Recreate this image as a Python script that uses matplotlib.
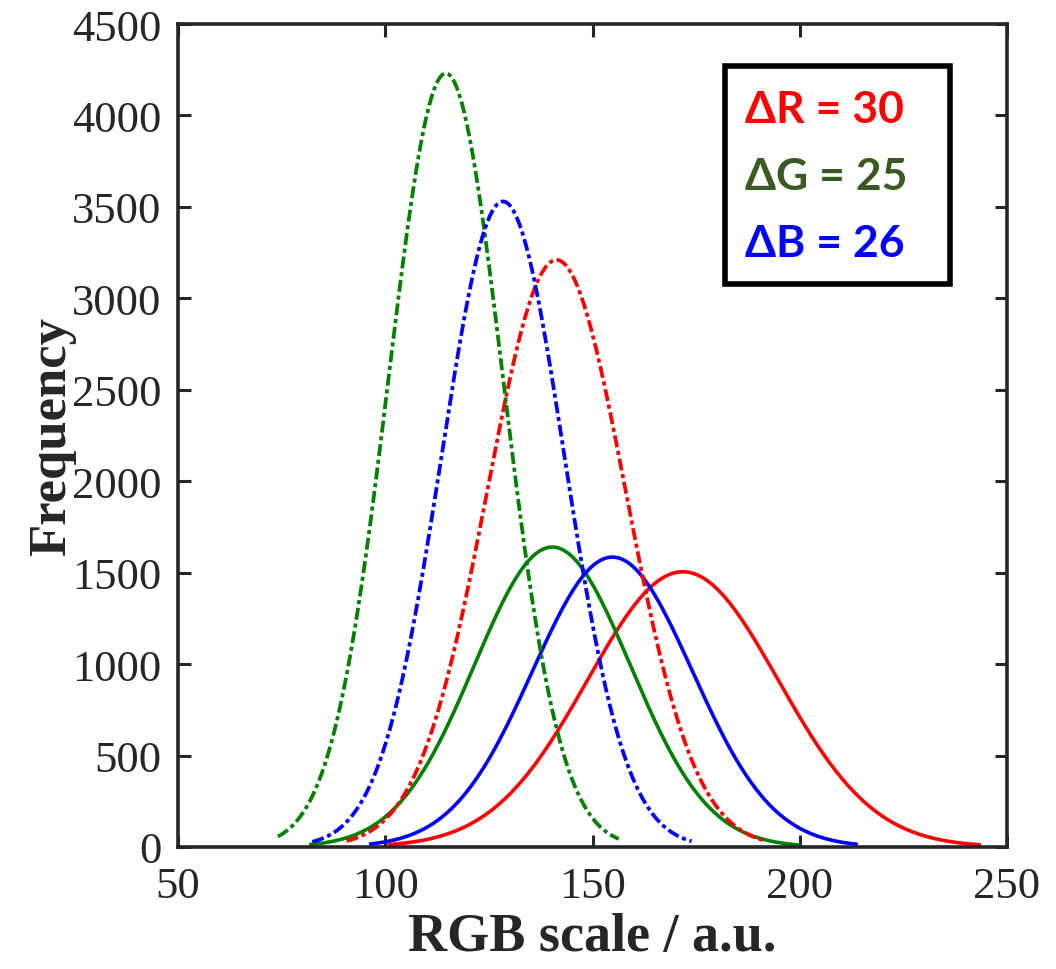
import matplotlib

matplotlib.use("Agg")
import matplotlib.pyplot as plt
import numpy as np
from matplotlib.patches import Rectangle

# fitted normal curves: one entry per channel / condition
channels = ["R", "G", "B"]
line_colors = ["#ff0000", "#008000", "#0000ff"]
text_colors = ["#ff0000", "#3a5a24", "#0000ff"]
deltas = [30, 25, 26]

# dash-dot curves (before)
before_mean = [141.3, 114.6, 128.4]
before_peak = [3210, 4230, 3530]
before_sigma = [16.7, 13.8, 14.8]
before_start = [90.7, 74.1, 82.4]
before_end = [191.3, 156.3, 173.9]

# solid curves (after)
after_mean = [171.8, 140.3, 154.8]
after_peak = [1505, 1640, 1585]
after_sigma = [23.0, 18.8, 19.3]
after_start = [100.6, 81.6, 96.1]
after_end = [243.7, 200.2, 214.0]

x_ticks = [50, 100, 150, 200, 250]
y_ticks = [0, 500, 1000, 1500, 2000, 2500, 3000, 3500, 4000, 4500]


def normal_curve(mean, peak, sigma, start, end):
    x = np.linspace(start, end, 400)
    return x, peak * np.exp(-0.5 * ((x - mean) / sigma) ** 2)


def main() -> None:
    fig = plt.figure(figsize=(10.56, 9.70), dpi=100)
    ax = fig.add_axes([0.1686, 0.1258, 0.7850, 0.8484])

    for i in range(len(channels)):
        x, y = normal_curve(after_mean[i], after_peak[i], after_sigma[i], after_start[i], after_end[i])
        ax.plot(x, y, color=line_colors[i], lw=2.6, solid_capstyle="butt")
    for i in range(len(channels)):
        x, y = normal_curve(before_mean[i], before_peak[i], before_sigma[i], before_start[i], before_end[i])
        ax.plot(x, y, color=line_colors[i], lw=2.7, dashes=(3.2, 1.0, 1.1, 1.0))

    ax.set_xlim(50, 250)
    ax.set_ylim(0, 4500)
    ax.set_xticks(x_ticks)
    ax.set_yticks(y_ticks)

    serif = ["Liberation Serif", "DejaVu Serif"]
    for lab in ax.get_xticklabels() + ax.get_yticklabels():
        lab.set_family(serif)
        lab.set_fontsize(32)
        lab.set_color("#262626")
    ax.tick_params(direction="in", length=9, width=2.2, color="#262626",
                   top=True, right=True)
    ax.tick_params(axis="x", pad=14)
    ax.tick_params(axis="y", pad=12)
    for s in ax.spines.values():
        s.set_linewidth(2.6)
        s.set_color("#262626")

    ax.set_xlabel("RGB scale / a.u.", family=serif, fontsize=39, fontweight="bold",
                  color="#262626", labelpad=4)
    ax.set_ylabel("Frequency", family=serif, fontsize=38, fontweight="bold",
                  color="#262626", labelpad=-3)

    ax.add_patch(Rectangle((0.660, 0.684), 0.271, 0.265, transform=ax.transAxes,
                           fill=True, facecolor="white", edgecolor="black", lw=4, zorder=5))
    text_y = [0.897, 0.815, 0.734]
    for i, ch in enumerate(channels):
        ax.text(0.684, text_y[i], f"\u0394{ch} = {deltas[i]}", transform=ax.transAxes,
                family=["Lato", "DejaVu Sans"], fontweight="bold", fontsize=32,
                color=text_colors[i], va="center", ha="left", zorder=6)

    fig.savefig("out.png", dpi=100)
    plt.close(fig)


if __name__ == "__main__":
    main()
